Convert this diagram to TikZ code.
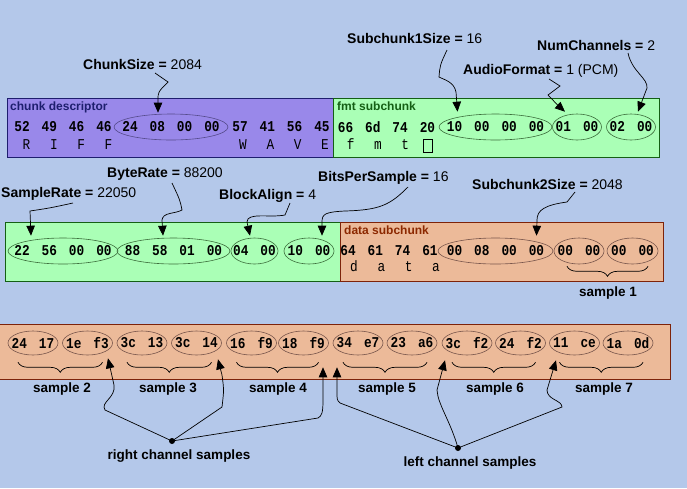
\documentclass[tikz,border=0pt]{standalone}
\usepackage{fontspec}
\setmainfont{Liberation Sans}
\newfontfamily\hexfont{Liberation Mono}[FakeStretch=0.85]
\newcommand\hexbold{\hexfont\bfseries\fontsize{15}{16}\selectfont\fontdimen2\font=6pt\relax}
\newcommand\hexplain{\hexfont\fontsize{15}{16}\selectfont\fontdimen2\font=6.55pt\relax}
\usetikzlibrary{shapes.geometric,arrows.meta,decorations.pathreplacing,calc}
\definecolor{bgblue}{RGB}{180,200,234}
\definecolor{riffpurple}{RGB}{153,136,234}
\definecolor{riffline}{RGB}{30,30,110}
\definecolor{riffoval}{RGB}{85,75,140}
\definecolor{fmtgreen}{RGB}{170,255,182}
\definecolor{fmtline}{RGB}{20,95,20}
\definecolor{fmtoval}{RGB}{60,110,60}
\definecolor{datasalmon}{RGB}{236,186,153}
\definecolor{dataline}{RGB}{125,35,10}
\definecolor{dataoval}{RGB}{120,85,75}
\definecolor{datattl}{RGB}{140,40,0}

\begin{document}
\begin{tikzpicture}[x=1pt,y=-1pt,
  every node/.style={inner sep=0pt},
  lbl/.style={anchor=base west,font=\fontsize{14}{16}\selectfont},
  boxttl/.style={anchor=base west,font=\bfseries\fontsize{12}{14}\selectfont},
  smp/.style={anchor=base,font=\bfseries\fontsize{13.5}{16}\selectfont},
  hex/.style={font=\hexbold},
  chr/.style={anchor=base,font=\hexplain},
  oval/.style={ellipse,draw,line width=0.6pt,minimum height=26pt,hex},
  wire/.style={draw,line width=0.7pt,-{Triangle[length=10pt,width=8.5pt]}},
  bracket/.style={decorate,decoration={brace,mirror,amplitude=10pt},line width=0.7pt},
  dot/.style={circle,fill,minimum size=6pt}]
    \fill[bgblue] (0,0) rectangle (687,488);
    \useasboundingbox (0,0) rectangle (687,488);
    \draw[riffline,fill=riffpurple,line width=1pt] (7,98) rectangle (333,157);
    \draw[fmtline,fill=fmtgreen,line width=1pt] (333,98) rectangle (659,157);
    \draw[fmtline,fill=fmtgreen,line width=1pt] (5,222) rectangle (340,281);
    \draw[dataline,fill=datasalmon,line width=1pt] (340,222) rectangle (663,281);
    \draw[dataline,fill=datasalmon,line width=1pt] (-2,324) rectangle (670,379);
    \node[boxttl,text=riffline] (riffttl) at (10,110) {chunk descriptor};
    \node[boxttl,text=fmtline] (fmtttl) at (337,110) {fmt subchunk};
    \node[boxttl,text=datattl] (datattl) at (344,234) {data subchunk};
    \node[hex] (riffid) at (63,127) {52~~49~~46~~46};
    \node[oval,draw=riffoval,minimum width=114pt] (riffsize) at (171,127) {\makebox[0pt]{24~~08~~00~~00}};
    \node[hex] (waveid) at (281,127) {57~~41~~56~~45};
    \node[chr] (riffchr) at (67.5,149) {R~~~I~~~F~~~F};
    \node[chr] (wavechr) at (284,149) {W~~~A~~~V~~~E};
    \node[hex] (fmtid) at (386.5,127) {66~~6d~~74~~20};
    \node[oval,draw=fmtoval,minimum width=113pt] (fmtsize) at (495.5,127) {\makebox[0pt]{10~~00~~00~~00}};
    \node[oval,draw=fmtoval,minimum width=49pt] (audfmt) at (577,127) {\makebox[0pt]{01~~00}};
    \node[oval,draw=fmtoval,minimum width=49pt] (numch) at (631,127) {\makebox[0pt]{02~~00}};
    \node[chr] (fmtchr) at (378,149) {f~~~m~~~t};
    \node[draw,line width=0.7pt,minimum width=9pt,minimum height=13pt] (spchr) at (427.5,145.5) {};
    \node[oval,draw=fmtoval,minimum width=110pt] (srate) at (63,251) {\makebox[0pt]{22~~56~~00~~00}};
    \node[oval,draw=fmtoval,minimum width=113pt] (brate) at (173.5,251) {\makebox[0pt]{88~~58~~01~~00}};
    \node[oval,draw=fmtoval,minimum width=47pt] (balign) at (254.5,251) {\makebox[0pt]{04~~00}};
    \node[oval,draw=fmtoval,minimum width=50pt] (bps) at (309,251) {\makebox[0pt]{10~~00}};
    \node[hex] (dataid) at (389,251) {64~~61~~74~~61};
    \node[oval,draw=dataoval,minimum width=115pt] (datasize) at (495.5,251) {\makebox[0pt]{00~~08~~00~~00}};
    \node[oval,draw=dataoval,minimum width=50pt] (smpla) at (579,251) {\makebox[0pt]{00~~00}};
    \node[oval,draw=dataoval,minimum width=51pt] (smplb) at (632.5,251) {\makebox[0pt]{00~~00}};
    \node[chr] (datachr) at (395,271.5) {d~~~a~~~t~~~a};
    \node[oval,draw=dataoval,minimum width=50pt,minimum height=24pt] (s2l) at (33,343) {\makebox[0pt]{24~~17}};
    \node[oval,draw=dataoval,minimum width=50pt,minimum height=24pt] (s2r) at (87.5,343) {\makebox[0pt]{1e~~f3}};
    \node[oval,draw=dataoval,minimum width=50pt,minimum height=24pt] (s3l) at (142,343) {\makebox[0pt]{3c~~13}};
    \node[oval,draw=dataoval,minimum width=50pt,minimum height=24pt] (s3r) at (196.5,343) {\makebox[0pt]{3c~~14}};
    \node[oval,draw=dataoval,minimum width=50pt,minimum height=24pt] (s4l) at (251.5,343) {\makebox[0pt]{16~~f9}};
    \node[oval,draw=dataoval,minimum width=50pt,minimum height=24pt] (s4r) at (303.5,343) {\makebox[0pt]{18~~f9}};
    \node[oval,draw=dataoval,minimum width=50pt,minimum height=24pt] (s5l) at (358,343) {\makebox[0pt]{34~~e7}};
    \node[oval,draw=dataoval,minimum width=50pt,minimum height=24pt] (s5r) at (412,343) {\makebox[0pt]{23~~a6}};
    \node[oval,draw=dataoval,minimum width=50pt,minimum height=24pt] (s6l) at (467,343) {\makebox[0pt]{3c~~f2}};
    \node[oval,draw=dataoval,minimum width=50pt,minimum height=24pt] (s6r) at (520.5,343) {\makebox[0pt]{24~~f2}};
    \node[oval,draw=dataoval,minimum width=50pt,minimum height=24pt] (s7l) at (574.5,343) {\makebox[0pt]{11~~ce}};
    \node[oval,draw=dataoval,minimum width=50pt,minimum height=24pt] (s7r) at (628,343) {\makebox[0pt]{1a~~0d}};
    \draw[bracket] ($(smpla.south)+(-12,2)$) -- ($(smplb.south)+(15.5,2)$);
    \draw[bracket] ($(s2l.south)+(-15,7)$) -- ($(s2r.south)+(15,7)$);
    \draw[bracket] ($(s3l.south)+(-15,7)$) -- ($(s3r.south)+(15,7)$);
    \draw[bracket] ($(s4l.south)+(-15,7)$) -- ($(s4r.south)+(15,7)$);
    \draw[bracket] ($(s5l.south)+(-15,7)$) -- ($(s5r.south)+(15,7)$);
    \draw[bracket] ($(s6l.south)+(-15,7)$) -- ($(s6r.south)+(15,7)$);
    \draw[bracket] ($(s7l.south)+(-15,7)$) -- ($(s7r.south)+(15,7)$);
    \node[smp] (smp1) at (608,296) {sample 1};
    \node[smp] (smp2) at (62,392) {sample 2};
    \node[smp] (smp3) at (168,392) {sample 3};
    \node[smp] (smp4) at (278,392) {sample 4};
    \node[smp] (smp5) at (387,392) {sample 5};
    \node[smp] (smp6) at (495,392) {sample 6};
    \node[smp] (smp7) at (604,392) {sample 7};
    \node[lbl] (chunksize) at (83,69) {\textbf{ChunkSize =} 2084};
    \node[lbl] (subone) at (347,43) {\textbf{Subchunk1Size =} 16};
    \node[lbl] (audiofmt) at (463,74) {\textbf{AudioFormat =} 1 (PCM)};
    \node[lbl] (numchan) at (537,50) {\textbf{NumChannels =} 2};
    \node[lbl] (samplerate) at (1,197) {\textbf{SampleRate =} 22050};
    \node[lbl] (byterate) at (107,177) {\textbf{ByteRate =} 88200};
    \node[lbl] (blockalign) at (219,199) {\textbf{BlockAlign =} 4};
    \node[lbl] (bitsper) at (318,181) {\textbf{BitsPerSample =} 16};
    \node[lbl] (subtwo) at (472,189) {\textbf{Subchunk2Size =} 2048};
    \draw[wire] ($(chunksize.base west)+(72,4)$) -- (168,82) .. controls (158,92) .. (158,100) -- ($(riffsize.north)+(-13,-1)$);
    \draw[wire] ($(subone.base west)+(100,7)$) .. controls (440,65) .. (439,77) .. controls (445,80) and (454,82) .. (456,92) -- ($(fmtsize.north)+(-38,-2)$);
    \draw[wire] ($(audiofmt.base west)+(86,5)$) -- (560,86) -- (548,95) .. controls (552,100) .. ($(audfmt.north)+(-12,-2)$);
    \draw[wire] ($(numchan.base west)+(91,3)$) .. controls (632,72) and (648,78) .. (647,88) -- ($(numch.north)+(7,-2)$);
    \draw[wire] ($(samplerate.base west)+(72,6)$) .. controls (50,208) .. (30,211) -- ($(srate.north)+(-32,-2)$);
    \draw[wire] ($(byterate.base west)+(65,6)$) .. controls (180,200) .. (182,210) .. controls (175,214) and (163,212) .. (162,220) -- ($(brate.north)+(-10.5,-2)$);
    \draw[wire] ($(blockalign.base west)+(71,4)$) -- (285,215) .. controls (270,218) and (247,212) .. (247,222) -- ($(balign.north)+(-4.5,-2)$);
    \draw[wire] ($(bitsper.base west)+(90,6)$) .. controls (390,205) and (380,210) .. (345,211) .. controls (325,212) and (322,214) .. (322,222) -- ($(bps.north)+(13,-2)$);
    \draw[wire] ($(subtwo.base west)+(103,3)$) -- (567,202) .. controls (545,205) and (537,210) .. (537,220) -- ($(datasize.north)+(41,-2)$);
    \node[dot] (rightdot) at (172,441) {};
    \node[dot] (leftdot) at (458,448) {};
    \node[smp] (rightlbl) at (179,459) {right channel samples};
    \node[smp] (leftlbl) at (470,466) {left channel samples};
    \draw[wire] (rightdot.center) -- (105,410) .. controls (100,402) and (116,398) .. (114,385) -- ($(s2r.south)+(20.5,3)$);
    \draw[wire] (rightdot.center) -- (222,407) .. controls (224,390) .. (222,375) -- ($(s3r.south)+(21.5,4)$);
    \draw[wire] (rightdot.center) -- (318,418) .. controls (322,416) and (323,412) .. (323,400) -- ($(s4r.south)+(19.5,12)$);
    \draw[wire] (leftdot.center) -- (340,403) .. controls (337,400) .. (337,392) -- ($(s5l.south)+(-21,12)$);
    \draw[wire] (leftdot.center) .. controls (450,420) and (438,405) .. (437,390) -- ($(s6l.south)+(-22,5)$);
    \draw[wire] (leftdot.center) -- (562,407) .. controls (562,400) and (547,400) .. (547,390) -- ($(s7l.south)+(-18.5,5)$);
\end{tikzpicture}
\end{document}
